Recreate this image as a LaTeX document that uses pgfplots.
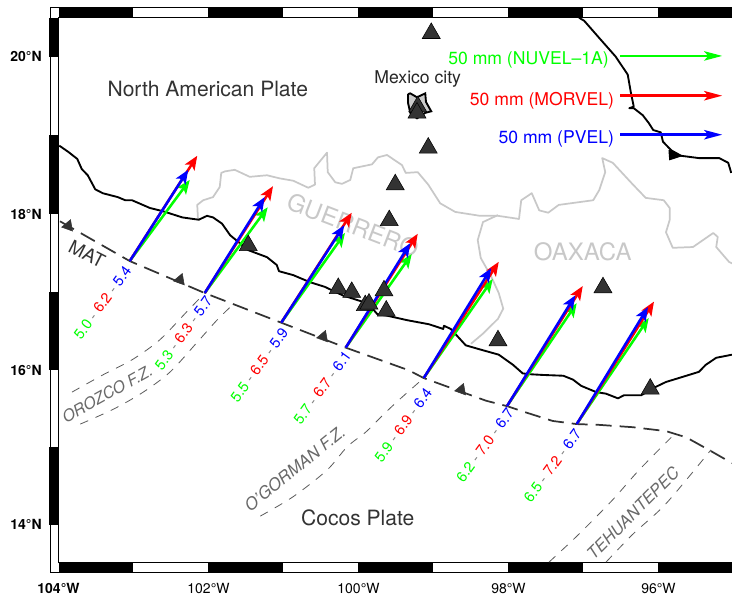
\documentclass[border=0pt]{standalone}
\usepackage{fontspec}
\setmainfont{TeX Gyre Heros}
\usepackage{pgfplots}
\pgfplotsset{compat=1.18}
\usetikzlibrary{arrows.meta}

\definecolor{dgreen}{RGB}{0,255,0}
\definecolor{dred}{RGB}{255,0,0}
\definecolor{dblue}{RGB}{0,0,255}
\definecolor{dark}{RGB}{51,51,51}
\definecolor{state}{RGB}{200,200,200}
\definecolor{fzone}{RGB}{90,90,90}
\definecolor{fztext}{RGB}{105,105,105}

\pgfplotsset{
  volc/.style={only marks, mark=triangle*, mark size=7.8pt,
    mark options={fill=dark, draw=black, line width=0.4pt}},
  smallvolc/.style={only marks, mark=triangle*, mark size=5pt,
    mark options={fill=dark, draw=dark, rotate=-20}},
  fz/.style={fzone, line width=0.6pt, dash pattern=on 6.5pt off 6pt, smooth},
  vel/.style={line width=1.9pt, -{Stealth[length=10.5pt,width=8.5pt,inset=2.5pt]}},
  legarrow/.style={line width=2pt, -{Stealth[length=13.5pt,width=7pt,inset=3pt]}},
  bar/.style={black, line width=7.2pt, line cap=butt, unbounded coords=jump},
}

% velocity label, three models along the trench normal
\newcommand{\vgap}{\hspace{3pt}\textcolor{gray}{-}\hspace{3pt}}
\newcommand{\vlab}[5]{\node[rotate=54, anchor=east, inner sep=0pt, font=\fontsize{11}{11}\selectfont]
  at (axis cs:#1,#2) {\textcolor{dgreen}{#3}\vgap\textcolor{dred}{#4}\vgap\textcolor{dblue}{#5}};}

\begin{document}
\begin{tikzpicture}
\useasboundingbox (0,0) rectangle (549pt,447.75pt);
\begin{axis}[
  at={(43.875pt,25.725pt)}, anchor=south west,
  scale only axis, width=505.5pt, height=408.75pt,
  xmin=-104, xmax=-95.013, ymin=13.513, ymax=20.5,
  clip=false,
  xtick={-104,-102,-100,-98,-96},
  xticklabels={\textbf{104°W},102°W,100°W,98°W,96°W},
  ytick={14,15.98,17.98,20},
  yticklabels={\textbf{14°N},\textbf{16°N},\textbf{18°N},\textbf{20°N}},
  major tick length=0pt, minor tick length=0pt,
  xticklabel style={inner sep=0pt, anchor=north, yshift=-15pt, font=\fontsize{10.5}{10.5}\selectfont},
  yticklabel style={inner sep=0pt, anchor=east, xshift=-12.4pt, font=\fontsize{10.5}{10.5}\selectfont},
  axis line style={black, line width=0.9pt},
]

% fancy frame
\addplot[fill=white, draw=black, line width=0.7pt, forget plot] coordinates
  {(-104.113,20.632) (-94.9,20.632) (-94.9,20.5) (-104,20.5) (-104,13.513) (-94.9,13.513) (-94.9,13.394) (-104.113,13.394) (-104.113,20.632)};
\addplot[bar, forget plot] coordinates {(-104,20.567) (-103,20.567) (nan,nan) (-102,20.567) (-101,20.567) (nan,nan) (-100,20.567) (-99,20.567) (nan,nan) (-98,20.567) (-97,20.567) (nan,nan) (-96,20.567) (-95.01,20.567)};
\addplot[bar, forget plot] coordinates {(-104,13.451) (-103,13.451) (nan,nan) (-102,13.451) (-101,13.451) (nan,nan) (-100,13.451) (-99,13.451) (nan,nan) (-98,13.451) (-97,13.451) (nan,nan) (-96,13.451) (-95.01,13.451)};
\addplot[bar, forget plot] coordinates {(-104.058,20.5) (-104.058,20) (nan,nan) (-104.058,19) (-104.058,17.98) (nan,nan) (-104.058,16.98) (-104.058,15.98) (nan,nan) (-104.058,15) (-104.058,14)};

% state boundaries
\addplot[state, line width=1.3pt, line join=round, forget plot] coordinates {
(-102.14,17.91) (-102.15,18.10) (-102.07,18.16) (-101.94,18.20) (-101.85,18.33) (-101.83,18.51)
(-101.78,18.53) (-101.65,18.55) (-101.45,18.46) (-101.22,18.48) (-101.05,18.44) (-100.87,18.41)
(-100.67,18.32) (-100.58,18.36) (-100.59,18.57) (-100.42,18.77) (-100.41,18.52) (-100.31,18.39)
(-100.22,18.37) (-100.11,18.42) (-100.07,18.57) (-99.82,18.62) (-99.74,18.71) (-99.62,18.74)
(-99.42,18.61) (-99.37,18.51) (-99.21,18.52) (-99.07,18.36) (-98.91,18.12) (-98.71,18.01)
(-98.38,17.96) (-98.14,17.96) (-97.86,17.92) (-97.83,18.16) (-97.69,18.25) (-97.59,18.03)
(-97.47,18.00) (-97.33,18.10) (-96.87,18.16) (-96.79,18.29) (-96.71,18.52) (-96.75,18.70)
(-96.61,18.64) (-96.34,18.36) (-96.17,18.19) (-95.93,18.16) (-95.85,18.06) (-95.85,17.91)
(-95.90,17.75) (-95.81,17.55) (-95.54,17.56) (-95.27,17.74) (-95.21,17.69) (-95.23,17.56)
(-95.06,17.37) (-95.02,17.35)};
\addplot[state, line width=1.3pt, line join=round, forget plot] coordinates {
(-98.14,17.97) (-98.34,17.88) (-98.41,17.65) (-98.37,17.42) (-98.23,17.18) (-98.13,16.97)
(-98.07,16.77) (-98.14,16.64) (-98.34,16.45) (-98.50,16.32)};

% state names
\node[state, rotate=-21, inner sep=0pt, font=\fontsize{18}{18}\selectfont] at (axis cs:-100.07,17.84) {GUERRERO};
\node[state, inner sep=0pt, font=\fontsize{18}{18}\selectfont] at (axis cs:-97.01,17.50) {OAXACA};

% Pacific coast
\addplot[black, line width=1.4pt, line join=round, forget plot] coordinates {
(-103.99,18.86) (-103.87,18.78) (-103.75,18.69) (-103.69,18.56) (-103.61,18.48) (-103.51,18.30)
(-103.41,18.25) (-103.21,18.20) (-103.11,18.16) (-103.02,18.16) (-102.78,18.06) (-102.61,18.02)
(-102.35,17.94) (-102.13,17.91) (-102.02,17.96) (-101.94,17.94) (-101.82,17.86) (-101.71,17.71)
(-101.62,17.64) (-101.47,17.52) (-101.22,17.43) (-101.09,17.33) (-101.06,17.25) (-100.87,17.20)
(-100.65,17.11) (-100.45,17.05) (-100.21,16.94) (-99.95,16.86) (-99.82,16.78) (-99.75,16.70)
(-99.62,16.68) (-99.34,16.62) (-99.06,16.57) (-98.87,16.51) (-98.86,16.55) (-98.77,16.51)
(-98.57,16.30) (-98.39,16.25) (-98.13,16.18) (-97.94,16.05) (-97.81,15.94) (-97.73,15.93)
(-97.54,15.92) (-97.27,15.91) (-97.14,15.86) (-97.03,15.78) (-96.83,15.70) (-96.70,15.68)
(-96.54,15.62) (-96.46,15.66) (-96.23,15.66) (-96.03,15.77) (-95.90,15.83) (-95.73,15.88)
(-95.46,15.96) (-95.37,16.05) (-95.23,16.14) (-95.02,16.18)};

% Gulf coast
\addplot[black, line width=1.4pt, line join=round, forget plot] coordinates {
(-97.06,20.50) (-96.99,20.46) (-96.79,20.24) (-96.57,20.00) (-96.41,19.77) (-96.37,19.55)
(-96.33,19.36) (-96.39,19.34) (-96.33,19.34) (-96.21,19.25) (-96.13,19.15) (-96.07,19.06)
(-95.97,19.03) (-95.94,18.91) (-95.83,18.80) (-95.70,18.73) (-95.46,18.70) (-95.19,18.70)
(-95.07,18.64) (-95.03,18.51)};
\addplot[fill=black, draw=black, line width=0.8pt, forget plot] coordinates {(-95.86,18.80) (-95.69,18.73) (-95.85,18.68) (-95.86,18.80)};

% fracture zones
\addplot[fz, forget plot] coordinates {(-103.82,15.70) (-103.41,15.92) (-103.01,16.12) (-102.65,16.37) (-102.29,16.73) (-102.05,16.97)};
\addplot[fz, forget plot] coordinates {(-103.71,15.29) (-103.27,15.48) (-102.87,15.70) (-102.51,15.96) (-102.15,16.34) (-101.89,16.62) (-101.71,16.79)};
\addplot[fz, forget plot] coordinates {(-101.31,14.11) (-100.87,14.36) (-100.42,14.70) (-100.15,15.00) (-99.90,15.19) (-99.67,15.41) (-99.46,15.60) (-99.13,15.88)};
\addplot[fz, forget plot] coordinates {(-97.46,13.52) (-97.06,13.88) (-96.61,14.32) (-96.26,14.70) (-95.83,15.12)};
\addplot[fz, forget plot] coordinates {(-96.70,13.52) (-96.34,13.88) (-95.90,14.27) (-95.30,14.96)};

% trench
\addplot[dark, line width=1.3pt, dash pattern=on 12pt off 6pt, forget plot] coordinates {
(-103.98,17.89) (-103.05,17.38) (-102.05,16.97) (-101.03,16.59) (-100.17,16.27) (-99.33,15.98)
(-99.13,15.88) (-98.30,15.59) (-98.02,15.52) (-97.77,15.44) (-97.41,15.33) (-97.09,15.29)
(-96.79,15.28) (-96.34,15.25) (-95.90,15.20) (-95.63,15.12) (-95.33,14.96) (-95.02,14.79)};

% subduction teeth and volcanoes
\addplot[smallvolc, forget plot] coordinates {(-103.87,17.83) (-102.38,17.14) (-100.47,16.41) (-98.63,15.73)};
\addplot[fill=state!95!white, draw=black, line width=1.4pt, forget plot] coordinates {
(-99.34,19.52) (-99.31,19.53) (-99.22,19.48) (-99.11,19.53) (-99.10,19.42) (-99.03,19.30)
(-99.11,19.28) (-99.22,19.21) (-99.31,19.28) (-99.34,19.41) (-99.34,19.52)};
\addplot[volc, forget plot] coordinates {
(-99.03,20.30) (-99.07,18.83) (-99.51,18.36) (-99.59,17.90) (-101.47,17.58) (-100.27,17.03)
(-100.09,16.98) (-99.91,16.81) (-99.86,16.83) (-99.66,17.00) (-99.63,16.74) (-96.74,17.04)
(-98.14,16.36) (-96.11,15.74) (-99.21,19.36) (-99.22,19.28)};

% plate velocities, green NUVEL-1A, red MORVEL, blue PVEL
\addplot[vel, dgreen, forget plot] coordinates {(-103.05,17.38) (-102.25,18.42)};
\addplot[vel, dred, forget plot] coordinates {(-103.05,17.38) (-102.15,18.73)};
\addplot[vel, dblue, forget plot] coordinates {(-103.05,17.38) (-102.27,18.55)};
\addplot[vel, dgreen, forget plot] coordinates {(-102.05,16.97) (-101.21,18.07)};
\addplot[vel, dred, forget plot] coordinates {(-102.05,16.97) (-101.14,18.34)};
\addplot[vel, dblue, forget plot] coordinates {(-102.05,16.97) (-101.25,18.20)};
\addplot[vel, dgreen, forget plot] coordinates {(-101.03,16.59) (-100.18,17.74)};
\addplot[vel, dred, forget plot] coordinates {(-101.03,16.59) (-100.09,18.00)};
\addplot[vel, dblue, forget plot] coordinates {(-101.03,16.59) (-100.19,17.84)};
\addplot[vel, dgreen, forget plot] coordinates {(-100.17,16.27) (-99.29,17.47)};
\addplot[vel, dred, forget plot] coordinates {(-100.17,16.27) (-99.21,17.73)};
\addplot[vel, dblue, forget plot] coordinates {(-100.17,16.27) (-99.31,17.61)};
\addplot[vel, dgreen, forget plot] coordinates {(-99.13,15.88) (-98.21,17.15)};
\addplot[vel, dred, forget plot] coordinates {(-99.13,15.88) (-98.13,17.37)};
\addplot[vel, dblue, forget plot] coordinates {(-99.13,15.88) (-98.23,17.29)};
\addplot[vel, dgreen, forget plot] coordinates {(-98.02,15.52) (-97.09,16.84)};
\addplot[vel, dred, forget plot] coordinates {(-98.02,15.52) (-97.01,17.06)};
\addplot[vel, dblue, forget plot] coordinates {(-98.02,15.52) (-97.11,16.94)};
\addplot[vel, dgreen, forget plot] coordinates {(-97.09,15.29) (-96.13,16.65)};
\addplot[vel, dred, forget plot] coordinates {(-97.09,15.29) (-96.06,16.86)};
\addplot[vel, dblue, forget plot] coordinates {(-97.09,15.29) (-96.14,16.79)};

% scale arrows
\addplot[legarrow, dgreen, forget plot] coordinates {(-96.51,20.01) (-95.15,20.01)};
\addplot[legarrow, dred, forget plot] coordinates {(-96.51,19.50) (-95.15,19.50)};
\addplot[legarrow, dblue, forget plot] coordinates {(-96.51,19.00) (-95.15,19.00)};

\node[anchor=east, inner sep=0pt, text=dgreen, font=\fontsize{13.2}{13.2}\selectfont] at (axis cs:-96.66,19.96) {50 mm (NUVEL--1A)};
\node[anchor=east, inner sep=0pt, text=dred, font=\fontsize{13.2}{13.2}\selectfont] at (axis cs:-96.59,19.44) {50 mm (MORVEL)};
\node[anchor=east, inner sep=0pt, text=dblue, font=\fontsize{13.2}{13.2}\selectfont] at (axis cs:-96.59,18.95) {50 mm (PVEL)};

% names
\node[text=dark, inner sep=0pt, font=\fontsize{15.8}{15.8}\selectfont] at (axis cs:-102.01,19.59) {North American Plate};
\node[text=dark, inner sep=0pt, font=\fontsize{15.8}{15.8}\selectfont] at (axis cs:-100.01,14.09) {Cocos Plate};
\node[text=black!85, inner sep=0pt, font=\fontsize{13.2}{13.2}\selectfont] at (axis cs:-99.21,19.71) {Mexico city};
\node[text=dark, rotate=-27, inner sep=0pt, font=\fontsize{14}{14}\selectfont] at (axis cs:-103.62,17.47) {MAT};
\node[text=fztext, rotate=29, inner sep=0pt, font=\fontsize{12}{12}\selectfont\itshape] at (axis cs:-103.35,15.68) {OROZCO F.Z.};
\node[text=fztext, rotate=39, inner sep=0pt, font=\fontsize{12.5}{12.5}\selectfont\itshape] at (axis cs:-100.85,14.72) {O'GORMAN F.Z.};
\node[text=fztext, rotate=45, inner sep=0pt, font=\fontsize{12.4}{12.4}\selectfont\itshape] at (axis cs:-96.34,14.15) {TEHUANTEPEC};

% rates
\vlab{-103.07}{17.30}{5.0}{6.2}{5.4}
\vlab{-101.99}{16.91}{5.3}{6.3}{5.7}
\vlab{-100.98}{16.50}{5.5}{6.5}{5.9}
\vlab{-100.14}{16.21}{5.7}{6.7}{6.1}
\vlab{-99.06}{15.73}{5.9}{6.9}{6.4}
\vlab{-97.97}{15.47}{6.2}{7.0}{6.7}
\vlab{-97.07}{15.21}{6.5}{7.2}{6.7}

\end{axis}
\end{tikzpicture}
\end{document}
